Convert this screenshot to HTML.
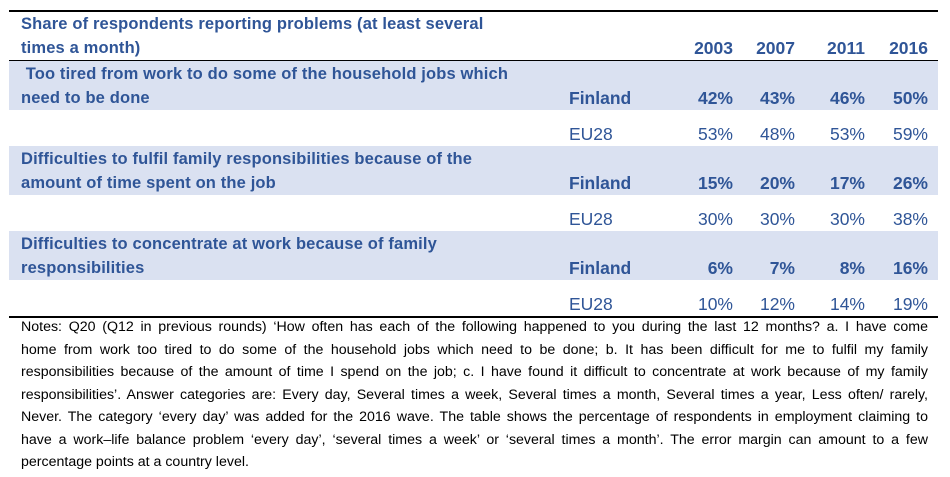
<!DOCTYPE html>
<html><head><meta charset="utf-8"><style>
body{margin:0;width:950px;height:477px;background:#fff;position:relative;overflow:hidden;font-family:"Liberation Sans",sans-serif}
.a{position:absolute;white-space:nowrap}
.h{color:#2f5597;font-size:16.5px}
.t{font-weight:bold;letter-spacing:0.15px;color:#2f5597;font-size:16.5px}
.b{font-weight:bold}
.band{position:absolute;left:9px;width:929px;height:49px;background:#dae1f1}
.line{position:absolute;left:9px;width:929px;height:1.5px;background:#000}
.v{position:absolute;text-align:right;width:60px;color:#2f5597;font-size:17.5px}
.n{position:absolute;left:21px;width:907px;font-size:14.2px;color:#000;text-align:justify;text-align-last:justify;white-space:nowrap;line-height:18px}
.n span{display:block}
</style></head><body>
<div class="line" style="top:10px"></div>
<div class="line" style="top:60px"></div>
<div class="band" style="top:61px"></div>
<div class="band" style="top:146px"></div>
<div class="band" style="top:231px"></div>
<div class="line" style="top:316px"></div>

<div class="a t" style="left:21px;top:15px">Share of respondents reporting problems (at least several</div>
<div class="a t" style="left:21px;top:39px">times a month)</div>
<div class="v b" style="left:673px;top:38px">2003</div>
<div class="v b" style="left:735px;top:38px">2007</div>
<div class="v b" style="left:805px;top:38px">2011</div>
<div class="v b" style="left:868px;top:38px">2016</div>

<div class="a t" style="left:21px;top:65px">&nbsp;Too tired from work to do some of the household jobs which</div>
<div class="a t" style="left:21px;top:89px">need to be done</div>
<div class="a h b" style="left:569px;top:88px;font-size:17.5px">Finland</div>
<div class="v b" style="left:673px;top:88px">42%</div><div class="v b" style="left:735px;top:88px">43%</div><div class="v b" style="left:805px;top:88px">46%</div><div class="v b" style="left:868px;top:88px">50%</div>
<div class="a h" style="left:569px;top:124px;font-size:17.5px">EU28</div>
<div class="v" style="left:673px;top:124px">53%</div><div class="v" style="left:735px;top:124px">48%</div><div class="v" style="left:805px;top:124px">53%</div><div class="v" style="left:868px;top:124px">59%</div>

<div class="a t" style="left:21px;top:150px">Difficulties to fulfil family responsibilities because of the</div>
<div class="a t" style="left:21px;top:174px">amount of time spent on the job</div>
<div class="a h b" style="left:569px;top:173px;font-size:17.5px">Finland</div>
<div class="v b" style="left:673px;top:173px">15%</div><div class="v b" style="left:735px;top:173px">20%</div><div class="v b" style="left:805px;top:173px">17%</div><div class="v b" style="left:868px;top:173px">26%</div>
<div class="a h" style="left:569px;top:209px;font-size:17.5px">EU28</div>
<div class="v" style="left:673px;top:209px">30%</div><div class="v" style="left:735px;top:209px">30%</div><div class="v" style="left:805px;top:209px">30%</div><div class="v" style="left:868px;top:209px">38%</div>

<div class="a t" style="left:21px;top:235px">Difficulties to concentrate at work because of family</div>
<div class="a t" style="left:21px;top:259px">responsibilities</div>
<div class="a h b" style="left:569px;top:258px;font-size:17.5px">Finland</div>
<div class="v b" style="left:673px;top:258px">6%</div><div class="v b" style="left:735px;top:258px">7%</div><div class="v b" style="left:805px;top:258px">8%</div><div class="v b" style="left:868px;top:258px">16%</div>
<div class="a h" style="left:569px;top:294px;font-size:17.5px">EU28</div>
<div class="v" style="left:673px;top:294px">10%</div><div class="v" style="left:735px;top:294px">12%</div><div class="v" style="left:805px;top:294px">14%</div><div class="v" style="left:868px;top:294px">19%</div>

<div class="n" style="top:318px"><span>Notes: Q20 (Q12 in previous rounds) ‘How often has each of the following happened to you during the last 12 months? a. I have come</span></div>
<div class="n" style="top:341px"><span>home from work too tired to do some of the household jobs which need to be done; b. It has been difficult for me to fulfil my family</span></div>
<div class="n" style="top:363px"><span>responsibilities because of the amount of time I spend on the job; c. I have found it difficult to concentrate at work because of my family</span></div>
<div class="n" style="top:386px"><span>responsibilities’. Answer categories are: Every day, Several times a week, Several times a month, Several times a year, Less often/ rarely,</span></div>
<div class="n" style="top:408px"><span>Never. The category ‘every day’ was added for the 2016 wave. The table shows the percentage of respondents in employment claiming to</span></div>
<div class="n" style="top:431px"><span>have a work–life balance problem ‘every day’, ‘several times a week’ or ‘several times a month’. The error margin can amount to a few</span></div>
<div class="n" style="top:453px;text-align-last:left"><span>percentage points at a country level.</span></div>
</body></html>
